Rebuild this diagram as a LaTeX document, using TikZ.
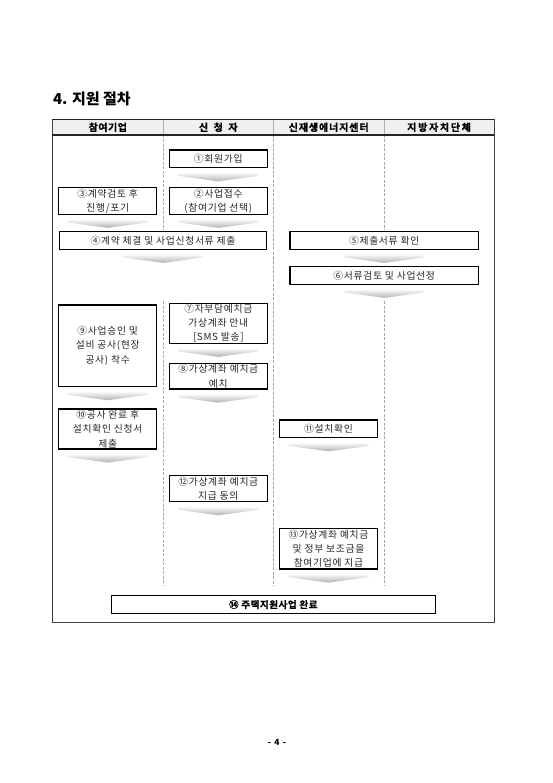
\documentclass[tikz,border=0pt]{standalone}
\usepackage{fontspec}
\setmainfont{Noto Sans CJK KR}
\newfontfamily\boxfont{Noto Sans CJK KR}[LetterSpace=7]
\newfontfamily\hdrfontA{Noto Sans CJK KR}[UprightFont=* Bold, LetterSpace=5, FakeBold=0.8]
\newfontfamily\hdrfontB{Noto Sans CJK KR}[UprightFont=* Bold, LetterSpace=9, FakeBold=0.8]
\newfontfamily\hdrfontC{Noto Sans CJK KR}[UprightFont=* Bold, LetterSpace=17, FakeBold=0.8]
\tikzset{
  chev/.pic={\path[top color=white, bottom color=gray!60] (-40,4) -- (40,4) -- (40,7.5) -- (0,13) -- (-40,7.5) -- cycle;},
  box/.style={draw=black, line width=1.2pt, fill=white, align=center, inner sep=0pt,
    font=\boxfont\fontsize{9.8}{14.3}\selectfont, text=black!85},
  hdr/.style={font=\hdrfontA\fontsize{10}{12}\selectfont},
  lane/.style={draw=gray!70, line width=0.8pt, dash pattern=on 3pt off 1.5pt},
}
\begin{document}
\begin{tikzpicture}[x=1pt,y=-1pt]
\useasboundingbox (0,0) rectangle (553,783);
\fill[white] (0,0) rectangle (553,783);
% title
\node[anchor=west, font=\bfseries\fontsize{15}{18}\selectfont] (title) at (49.5,98.5) {4. 지원 절차};
% header
\fill[black!6] (52.3,119.3) rectangle (494.3,135);
\draw[gray!60, line width=0.8pt] (163.3,119.3) -- (163.3,135) (273.3,119.3) -- (273.3,135) (384,119.3) -- (384,135);
\node[hdr] (h1) at (107.8,127.3) {참여기업};
\node[hdr] (h2) at (218.3,127.3) {신 \ 청 \ 자};
\node[hdr, font=\hdrfontB\fontsize{10}{12}\selectfont] (h3) at (328.7,127.3) {신재생에너지센터};
\node[hdr, font=\hdrfontC\fontsize{10}{12}\selectfont] (h4) at (439.1,127.3) {지방자치단체};
% lanes
\draw[lane] (163.3,135) -- (163.3,230.5) (163.3,301) -- (163.3,586);
\draw[lane] (273.3,135) -- (273.3,586);
\draw[lane] (384,135) -- (384,230.5) (384,301) -- (384,586);
% frame
\draw[black!75, line width=0.9pt] (52.3,119.3) rectangle (494.3,622.3);
\draw[black!85, line width=1.3pt] (52.3,119.3) -- (494.3,119.3);
\draw[black!85, line width=1.8pt] (52.3,135) -- (494.3,135);
% boxes
\node[box, minimum width=98pt, minimum height=17.7pt] (b1) at (218.3,158.9) {①회원가입};
\node[box, minimum width=98pt, minimum height=26.6pt] (b2) at (218.3,201) {②사업접수\\(참여기업 선택)};
\node[box, minimum width=98pt, minimum height=26.6pt] (b3) at (107.7,201) {③계약검토 후\\진행/포기};
\node[box, minimum width=207.4pt, minimum height=17.6pt] (b4) at (163,240.5) {④계약 체결 및 사업신청서류 제출};
\node[box, minimum width=188.3pt, minimum height=17.6pt] (b5) at (384.2,240.5) {⑤제출서류 확인};
\node[box, minimum width=188.3pt, minimum height=17.6pt] (b6) at (384.2,275.5) {⑥서류검토 및 사업선정};
\node[box, minimum width=98pt, minimum height=40pt] (b7) at (218.3,323.3) {⑦자부담예치금\\가상계좌 안내\\{}[SMS 발송]};
\node[box, minimum width=98pt, minimum height=81.7pt] (b9) at (107.7,345.8) {⑨사업승인 및\\설비 공사(현장\\공사) 착수};
\node[box, minimum width=98pt, minimum height=25.7pt] (b8) at (218.3,376.2) {⑧가상계좌 예치금\\예치};
\node[box, minimum width=98pt, minimum height=40pt] (b10) at (107.7,429) {⑩공사 완료 후\\설치확인 신청서\\제출};
\node[box, minimum width=98.4pt, minimum height=17.7pt] (b11) at (328.5,428.9) {⑪설치확인};
\node[box, minimum width=98pt, minimum height=26pt] (b12) at (218.3,488.7) {⑫가상계좌 예치금\\지급 동의};
\node[box, minimum width=98.4pt, minimum height=40.7pt] (b13) at (328.5,548.7) {⑬가상계좌 예치금\\및 정부 보조금을\\참여기업에 지급};
\node[box, minimum width=324pt, minimum height=17.6pt, font=\hdrfontA\fontsize{9.6}{12}\selectfont, text=black] (b14) at (273.3,604.5) {⑭ 주택지원사업 완료};
% chevrons
\foreach \b in {b1,b2,b3,b4,b5,b6,b7,b8,b9,b10,b11,b12,b13}
  \pic at (\b.south) {chev};
% page number
\node[font=\bfseries\fontsize{8.5}{10}\selectfont] (page) at (277,742.5) {- \,4\, -};
\end{tikzpicture}
\end{document}
